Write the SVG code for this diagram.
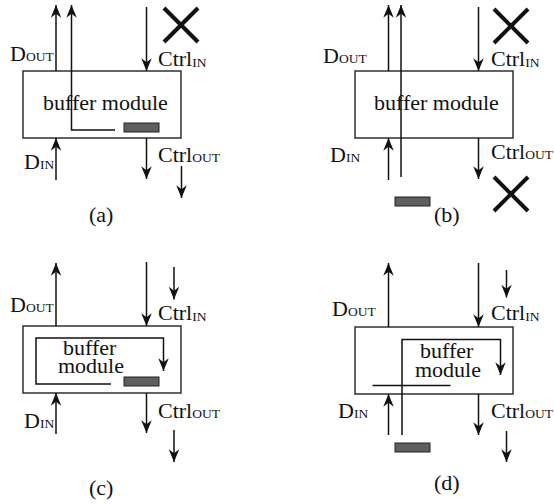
<svg xmlns="http://www.w3.org/2000/svg" width="554" height="504" viewBox="0 0 554 504" font-family="'Liberation Serif', 'DejaVu Serif', serif">
  <style>
    .box { fill: #fff; stroke: #222; stroke-width: 1.4; }
    .wire { fill: none; stroke: #111; stroke-width: 1.5; }
    .arrow { fill: none; stroke: #111; stroke-width: 1.5; marker-end: url(#head); }
    .token { fill: #5f5f5f; stroke: #222; stroke-width: 1; }
    .cross { stroke: #111; stroke-width: 4; }
    text { font-family: "Liberation Serif", "DejaVu Serif", serif; font-size: 22px; fill: #111; }
    .sub { font-size: 13.5px; }
  </style>
  <defs>
    <marker id="head" markerUnits="userSpaceOnUse" markerWidth="14" markerHeight="12" viewBox="-11 -5 12 10" refX="0" refY="0" orient="auto">
      <path d="M0,0 L-11,-4.5 L-7.5,0 L-11,4.5 Z" fill="#111"/>
    </marker>
  </defs>

  <!-- (a) -->
  <g id="panel-a">
    <g id="a-module">
      <rect class="box" x="23" y="71" width="158" height="67"/>
      <text x="43" y="110">buffer module</text>
      <rect class="token" x="124" y="123" width="35" height="9"/>
    </g>
    <g id="a-labels">
      <text x="10" y="61">D<tspan class="sub">OUT</tspan></text>
      <text x="158" y="66">Ctrl<tspan class="sub" dy="1">IN</tspan></text>
      <text x="24" y="169">D<tspan class="sub">IN</tspan></text>
      <text x="158" y="162">Ctrl<tspan class="sub">OUT</tspan></text>
      <text x="89" y="222">(a)</text>
    </g>
    <g id="a-cross">
      <line class="cross" x1="164" y1="8" x2="198" y2="42"/>
      <line class="cross" x1="198" y1="8" x2="164" y2="42"/>
    </g>
    <g id="a-connectors">
      <line class="arrow" x1="56" y1="71" x2="56" y2="5"/>
      <polyline class="arrow" points="115,130 71.5,130 71.5,5"/>
      <line class="arrow" x1="146.5" y1="7" x2="146.5" y2="71"/>
      <line class="arrow" x1="146.5" y1="138" x2="146.5" y2="179"/>
      <line class="arrow" x1="181.5" y1="166" x2="181.5" y2="198"/>
      <line class="arrow" x1="56" y1="180" x2="56" y2="138"/>
    </g>
  </g>

  <!-- (b) -->
  <g id="panel-b">
    <g id="b-module">
      <rect class="box" x="355" y="71" width="158" height="67"/>
      <text x="374" y="110">buffer module</text>
      <rect class="token" x="395" y="197" width="35" height="9"/>
    </g>
    <g id="b-labels">
      <text x="323" y="63">D<tspan class="sub">OUT</tspan></text>
      <text x="491" y="66">Ctrl<tspan class="sub" dy="1">IN</tspan></text>
      <text x="330" y="162">D<tspan class="sub">IN</tspan></text>
      <text x="491" y="159">Ctrl<tspan class="sub">OUT</tspan></text>
      <text x="434" y="222">(b)</text>
    </g>
    <g id="b-cross">
      <line class="cross" x1="494" y1="9" x2="528" y2="43"/>
      <line class="cross" x1="528" y1="9" x2="494" y2="43"/>
      <line class="cross" x1="494" y1="177" x2="528" y2="211"/>
      <line class="cross" x1="528" y1="177" x2="494" y2="211"/>
    </g>
    <g id="b-connectors">
      <line class="arrow" x1="388.5" y1="71" x2="388.5" y2="5"/>
      <line class="arrow" x1="401" y1="177" x2="401" y2="5"/>
      <line class="arrow" x1="478.5" y1="7" x2="478.5" y2="71"/>
      <line class="arrow" x1="478.5" y1="138" x2="478.5" y2="179"/>
      <line class="arrow" x1="388.5" y1="180" x2="388.5" y2="138"/>
    </g>
  </g>

  <!-- (c) -->
  <g id="panel-c">
    <g id="c-module">
      <rect class="box" x="23" y="326" width="158" height="67"/>
      <text x="63" y="355">buffer<tspan x="58" y="373">module</tspan></text>
      <rect class="token" x="124" y="377" width="35" height="9"/>
    </g>
    <g id="c-labels">
      <text x="10" y="312">D<tspan class="sub">OUT</tspan></text>
      <text x="158" y="320">Ctrl<tspan class="sub" dy="1">IN</tspan></text>
      <text x="24" y="428">D<tspan class="sub">IN</tspan></text>
      <text x="158" y="418">Ctrl<tspan class="sub">OUT</tspan></text>
      <text x="89" y="495">(c)</text>
    </g>
    <g id="c-connectors">
      <polyline class="arrow" points="111,384 36,384 36,338 163.5,338 163.5,371"/>
      <line class="arrow" x1="56" y1="326" x2="56" y2="263"/>
      <line class="arrow" x1="146.5" y1="262" x2="146.5" y2="326"/>
      <line class="arrow" x1="174" y1="267" x2="174" y2="299.5"/>
      <line class="arrow" x1="56" y1="434" x2="56" y2="393"/>
      <line class="arrow" x1="146.5" y1="393" x2="146.5" y2="433"/>
      <line class="arrow" x1="174" y1="430" x2="174" y2="462"/>
    </g>
  </g>

  <!-- (d) -->
  <g id="panel-d">
    <g id="d-module">
      <rect class="box" x="355" y="327" width="158" height="67"/>
      <text x="420" y="358">buffer<tspan x="415" y="377">module</tspan></text>
      <rect class="token" x="395" y="443" width="35" height="9"/>
    </g>
    <g id="d-labels">
      <text x="332" y="316">D<tspan class="sub">OUT</tspan></text>
      <text x="491" y="320">Ctrl<tspan class="sub" dy="1">IN</tspan></text>
      <text x="338" y="418">D<tspan class="sub">IN</tspan></text>
      <text x="491" y="418">Ctrl<tspan class="sub">OUT</tspan></text>
      <text x="434" y="490">(d)</text>
    </g>
    <g id="d-connectors">
      <line class="wire" x1="372.5" y1="385.5" x2="450.5" y2="385.5"/>
      <polyline class="arrow" points="402,435 402,339.5 500.5,339.5 500.5,375"/>
      <line class="arrow" x1="388.5" y1="327" x2="388.5" y2="263"/>
      <line class="arrow" x1="478.5" y1="263" x2="478.5" y2="327"/>
      <line class="arrow" x1="506.5" y1="270" x2="506.5" y2="297.5"/>
      <line class="arrow" x1="388.5" y1="435" x2="388.5" y2="394"/>
      <line class="arrow" x1="478.5" y1="394" x2="478.5" y2="435"/>
      <line class="arrow" x1="506.5" y1="431" x2="506.5" y2="462"/>
    </g>
  </g>
</svg>
